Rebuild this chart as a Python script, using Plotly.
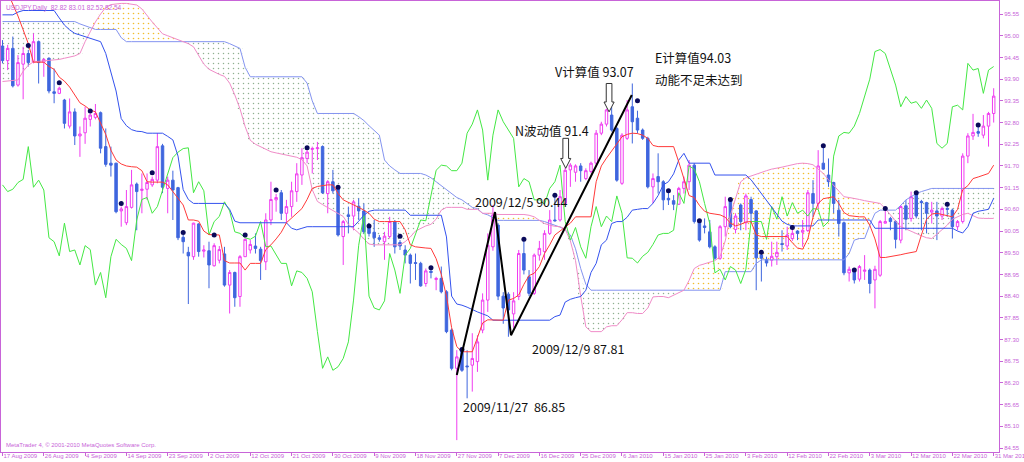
import plotly.graph_objects as go

# ---------------- data ----------------
bars = list(range(193))

open_ = [94.74,94.37,94.68,93.75,94.28,94.55,94.34,94.85,94.33,94.43,
         93.58,93.54,93.37,92.71,93.07,92.46,92.54,92.88,92.93,93.05,
         92.19,91.77,91.77,90.56,90.26,90.65,91.24,91.08,91.11,91.22,
         91.34,92.21,91.13,91.34,91.15,89.89,89.51,89.40,90.23,89.54,
         89.55,89.17,89.31,89.47,88.68,89.00,88.39,89.40,89.57,89.67,
         89.59,89.27,90.33,90.84,91.02,90.50,90.67,91.05,91.47,91.89,
         92.12,92.14,92.19,91.00,91.30,91.17,89.91,90.46,90.43,90.68,
         90.56,90.20,90.02,89.88,89.78,89.91,90.29,89.76,89.57,89.44,
         89.25,89.23,88.72,89.03,88.82,88.85,88.51,87.54,86.57,87.05,
         86.63,86.65,86.74,87.54,88.30,89.65,90.20,88.40,88.45,87.95,
         88.39,89.48,88.89,88.47,89.44,89.53,89.99,90.33,90.33,90.75,
         91.60,91.54,91.70,91.38,91.56,91.77,92.53,92.76,92.99,92.65,
         91.26,92.40,93.20,92.91,92.61,92.40,91.17,91.43,91.30,90.88,
         90.82,90.73,91.13,91.30,91.72,90.29,90.18,90.03,89.65,89.36,
         90.16,90.84,90.09,90.71,90.26,90.85,90.56,89.44,89.33,89.31,
         89.40,89.73,89.67,89.86,90.05,90.02,90.06,91.00,90.75,91.77,
         91.47,91.28,90.58,90.26,88.99,89.08,88.83,89.03,89.06,88.81,
         88.93,90.25,90.37,90.29,89.82,90.69,90.37,91.02,90.80,90.77,
         90.53,90.56,90.43,90.62,90.58,90.16,90.29,91.95,92.46,92.57,
         92.48,92.71,93.03]
high = [94.89,94.77,94.98,94.51,94.72,94.64,95.06,94.88,94.43,94.45,
        94.17,93.71,93.40,93.41,93.16,92.70,93.20,93.03,93.27,93.08,
        92.65,92.19,91.78,90.67,91.09,91.60,91.28,91.51,91.51,91.43,
        92.53,92.26,91.43,91.58,91.17,89.95,89.65,90.26,90.25,89.69,
        89.78,89.74,89.67,89.65,89.06,89.02,89.44,89.86,89.82,89.99,
        89.65,90.50,91.30,90.99,91.09,90.84,91.30,91.77,92.15,92.10,
        92.19,92.31,92.22,91.34,91.60,91.17,90.33,90.67,90.84,90.88,
        90.75,90.25,90.33,89.95,90.03,90.41,90.33,89.82,89.69,89.48,
        89.48,89.27,89.10,89.06,88.89,89.15,88.55,87.58,87.03,87.07,
        87.03,87.46,87.41,88.47,89.99,90.71,90.25,88.50,88.50,88.50,
        89.57,89.80,89.06,89.48,89.80,90.07,90.58,90.92,91.09,91.65,
        91.77,91.74,91.77,91.64,91.81,92.61,92.82,93.15,93.20,92.69,
        92.53,93.37,93.79,93.10,92.65,92.44,91.51,92.02,91.34,91.05,
        90.96,91.17,91.43,91.85,91.77,90.33,90.37,90.33,89.69,90.20,
        90.92,90.88,90.50,90.75,91.00,90.92,90.58,89.50,89.40,89.78,
        89.78,90.07,90.16,90.12,90.07,90.33,91.09,91.34,92.10,92.19,
        91.89,91.30,90.84,90.29,89.15,89.08,89.19,89.44,89.10,89.17,
        90.33,90.58,90.41,90.33,90.71,90.84,91.05,91.05,90.84,90.79,
        90.79,90.79,90.67,90.75,90.62,90.33,92.02,92.53,93.02,92.72,
        92.99,93.07,93.67]
low = [94.30,94.13,93.69,93.71,93.39,94.22,94.30,93.79,93.96,93.54,
       93.29,93.52,92.65,92.65,92.23,91.93,92.26,92.70,92.88,92.02,
       91.68,91.43,90.50,90.16,90.20,90.62,90.07,90.50,90.84,91.17,
       91.26,91.01,90.50,90.33,89.82,89.48,88.20,89.32,89.40,89.38,
       88.60,89.15,89.23,88.64,87.96,88.13,88.13,89.40,89.48,89.48,
       88.81,89.06,90.20,90.54,90.33,90.24,90.41,90.79,91.22,91.77,
       91.51,91.85,90.99,90.50,91.00,89.91,89.19,89.99,90.07,90.33,
       89.99,89.91,89.65,89.78,89.32,89.86,89.48,89.57,89.23,88.72,
       88.81,88.64,88.64,88.85,88.55,88.47,87.46,86.52,84.75,86.48,
       85.81,85.98,86.48,87.46,88.00,89.55,88.30,87.70,87.37,87.60,
       88.30,88.95,88.40,88.43,89.30,89.32,89.95,90.29,90.29,90.70,
       91.17,91.30,91.30,91.34,91.51,91.68,92.48,92.70,92.57,91.30,
       91.22,92.36,92.27,92.52,92.36,91.13,90.75,91.00,90.58,90.71,
       90.58,90.71,91.00,91.09,90.24,89.78,89.99,89.61,89.32,89.32,
       89.91,90.12,89.99,90.07,90.07,90.24,88.55,88.77,89.15,89.15,
       89.19,89.53,89.57,89.80,89.82,89.65,90.03,90.41,90.62,91.60,
       91.17,90.50,89.91,88.93,88.77,88.72,88.77,88.81,88.47,88.09,
       88.89,90.24,90.07,89.61,89.74,90.07,90.29,90.37,90.07,89.99,
       90.24,89.82,90.33,90.41,89.86,90.07,90.24,91.77,92.36,92.44,
       92.40,92.19,92.80]
close = [94.37,94.68,93.73,94.32,94.55,94.32,94.85,94.32,94.40,93.60,
         93.54,93.67,92.78,93.07,92.46,92.51,92.91,92.99,93.03,92.15,
         91.74,91.72,90.54,90.61,90.67,91.22,91.05,91.11,91.28,91.36,
         92.19,91.16,91.34,91.09,89.88,89.78,89.42,90.25,89.53,89.57,
         89.19,89.68,89.58,88.68,89.00,88.36,89.40,89.84,89.71,89.61,
         89.30,90.33,90.85,90.90,90.50,90.67,91.07,91.50,91.91,92.05,
         92.14,92.16,91.02,91.30,91.07,89.95,90.29,90.42,90.79,90.56,
         90.03,89.99,89.88,89.84,89.92,90.29,89.65,89.67,89.44,89.23,
         89.23,88.66,89.04,89.00,88.85,88.51,87.50,86.57,86.86,86.52,
         86.61,86.82,87.24,88.30,89.69,90.46,88.40,88.10,88.05,88.28,
         89.48,89.06,88.47,89.44,89.61,89.99,90.33,90.31,90.92,91.59,
         91.72,91.70,91.58,91.58,91.77,92.53,92.76,93.12,92.61,91.34,
         92.48,93.12,92.82,92.61,92.40,91.17,91.38,91.30,90.84,90.84,
         90.73,91.13,91.30,91.72,90.29,89.82,90.14,89.65,89.36,90.16,
         90.67,90.16,90.43,90.29,90.94,90.50,89.37,89.36,89.24,89.41,
         89.51,89.71,89.95,89.99,89.99,90.07,91.02,90.75,91.70,91.62,
         91.30,90.75,90.24,88.99,89.08,88.81,89.15,89.06,88.72,89.08,
         90.29,90.29,90.29,89.84,90.67,90.35,90.92,90.43,90.77,90.50,
         90.58,90.43,90.62,90.60,90.16,90.29,91.95,92.46,92.55,92.53,
         92.71,93.03,93.47]
# closes after the last visible bar (only seen through the lagging green line)
future_close = [93.90,94.60,94.65,94.55,94.13,93.75,93.20,93.46,93.29,93.33,
                93.16,93.37,93.16,92.27,92.15,92.27,93.20,93.24,93.12,94.30,
                94.13,94.17,93.54,94.13,94.22]

tenkan = [96.40,96.10,95.80,95.50,95.15,94.80,94.33,94.33,94.33,94.22,
          94.15,93.95,93.85,93.70,93.50,93.30,93.22,93.12,93.07,92.80,
          92.50,92.10,91.85,91.75,91.70,91.68,91.67,91.58,91.30,91.29,
          91.29,91.29,91.22,91.05,90.88,90.71,90.33,90.33,90.30,90.05,
          89.96,89.95,89.95,89.30,89.24,89.24,89.24,89.06,89.23,89.23,
          89.23,89.58,89.70,89.85,90.02,90.26,90.38,90.52,90.62,90.85,
          91.13,91.18,91.20,91.22,91.22,91.00,90.84,90.78,90.73,90.65,
          90.58,90.50,90.35,90.29,90.29,90.29,90.29,90.29,90.08,89.70,
          89.65,89.63,89.62,89.61,89.35,88.95,88.40,87.60,87.12,86.99,
          86.99,86.99,87.35,87.72,87.80,87.80,87.79,87.79,88.30,88.34,
          88.43,88.70,88.92,88.98,89.15,89.48,89.70,89.95,90.05,90.14,
          90.25,90.41,90.41,90.41,90.41,91.30,91.70,91.90,92.08,92.28,
          92.44,92.50,92.53,92.52,92.48,92.40,92.22,92.19,92.19,92.19,
          92.19,91.80,91.35,90.95,90.90,90.70,90.55,90.50,90.48,90.46,
          90.40,90.25,90.18,90.22,90.28,90.29,89.95,89.91,89.91,89.91,
          89.91,89.91,89.91,89.75,89.62,89.59,89.85,90.40,90.75,90.87,
          90.90,90.92,90.75,90.52,90.44,90.42,90.41,90.41,90.20,89.85,
          89.38,89.38,89.40,89.43,89.45,89.48,89.50,89.53,89.95,90.35,
          90.48,90.50,90.47,90.44,90.41,90.60,91.10,91.20,91.38,91.42,
          91.46,91.51,91.72]
kijun = [95.53,95.53,95.53,95.60,95.64,95.64,95.64,95.64,95.64,95.64,
         95.64,95.45,95.27,95.15,95.06,95.02,94.98,94.94,94.90,94.85,
         94.55,94.10,93.60,92.90,92.72,92.62,92.58,92.57,92.53,92.53,
         92.53,92.53,92.45,92.36,91.95,91.10,90.85,90.75,90.75,90.75,
         90.75,90.75,90.75,90.75,90.60,90.30,90.26,90.26,90.26,90.26,
         90.26,90.26,90.26,90.26,90.26,90.26,90.12,90.08,90.12,90.16,
         90.16,90.16,90.16,90.16,90.16,90.16,90.16,90.16,90.16,90.30,
         90.45,90.55,90.58,90.58,90.58,90.58,90.58,90.58,90.58,90.45,
         90.45,90.45,90.45,90.45,90.45,90.45,89.90,88.40,88.20,88.17,
         88.12,88.05,88.00,87.95,87.90,87.79,87.79,87.79,87.79,87.79,
         87.79,87.79,87.79,87.79,87.79,87.79,87.79,87.88,87.92,88.25,
         88.32,88.36,88.39,88.55,89.00,89.23,89.70,89.82,90.24,90.29,
         90.29,90.40,90.58,90.60,90.62,90.62,90.75,90.95,91.22,91.30,
         91.50,91.85,92.02,91.77,91.77,91.77,91.77,91.77,91.47,91.47,
         91.47,91.47,91.47,91.47,91.47,91.35,91.17,91.00,90.84,90.65,
         90.45,90.30,90.22,90.18,90.18,90.18,90.18,90.18,90.33,90.33,
         90.33,90.33,90.33,90.33,90.33,90.33,90.33,90.33,90.33,90.12,
         90.12,90.12,90.12,90.12,90.12,90.12,90.12,90.12,90.12,90.12,
         90.12,90.12,90.12,90.12,90.12,90.05,90.00,90.16,90.50,90.55,
         90.58,90.60,90.88]
senkou_a = [93.84,93.85,93.86,93.88,94.10,94.25,94.34,94.35,94.36,94.37,
            94.38,94.40,94.43,94.46,94.49,94.55,94.85,95.10,95.35,95.55,
            95.72,95.79,95.81,95.82,95.82,95.80,95.78,95.68,95.50,95.35,
            95.20,95.05,95.00,94.95,94.90,94.86,94.80,94.72,94.50,94.28,
            94.15,94.08,94.02,93.97,93.80,93.50,93.15,92.70,92.35,92.25,
            92.19,92.12,92.06,92.03,92.00,91.98,91.95,91.92,91.86,91.70,
            91.10,90.80,90.72,90.65,90.58,90.50,90.42,90.22,90.10,90.00,
            89.85,89.72,89.70,89.70,89.70,89.70,89.70,89.70,89.78,89.90,
            90.05,90.12,90.18,90.22,90.35,90.58,90.65,90.65,90.65,90.65,
            90.60,90.60,90.60,90.50,90.50,90.50,90.47,90.47,90.47,90.47,
            90.47,90.47,90.45,90.41,90.32,90.24,90.20,90.17,90.16,90.10,
            89.80,89.30,88.40,87.62,87.50,87.50,87.50,87.62,87.65,87.65,
            87.80,87.98,87.98,87.96,87.96,88.10,88.38,88.39,88.39,88.36,
            88.42,88.50,88.55,88.80,89.10,89.18,89.22,89.26,89.30,89.40,
            89.80,90.45,90.90,91.30,91.40,91.45,91.50,91.55,91.58,91.62,
            91.64,91.67,91.70,91.73,91.76,91.77,91.76,91.73,91.62,91.51,
            91.35,91.20,91.05,90.92,90.90,90.88,90.85,90.82,90.80,90.78,
            90.75,90.62,90.45,90.30,90.16,90.10,90.03,89.98,89.93,89.88,
            89.86,89.97,90.08,90.20,90.35,90.42,90.47,90.50,90.45,90.38,
            90.37,90.37,90.37]
senkou_b = [95.36,95.36,95.36,95.36,95.36,95.36,95.36,95.36,95.36,95.36,
            95.36,95.36,95.36,95.36,95.36,95.30,95.25,95.20,95.16,95.16,
            95.16,95.16,95.16,94.95,94.85,94.85,94.85,94.85,94.85,94.85,
            94.85,94.85,94.85,94.85,94.85,94.85,94.85,94.85,94.85,94.85,
            94.85,94.85,94.85,94.85,94.80,94.75,94.68,94.20,93.96,93.96,
            93.96,93.96,93.96,93.96,93.96,93.96,93.96,93.96,93.96,93.80,
            93.35,93.03,93.03,93.03,93.03,93.03,93.03,93.03,93.03,92.95,
            92.85,92.72,92.60,92.48,91.85,91.70,91.60,91.51,91.51,91.51,
            91.51,91.51,91.47,91.40,91.30,91.20,91.09,91.00,90.90,90.84,
            90.75,90.65,90.62,90.50,90.46,90.40,90.32,90.32,90.32,90.32,
            90.32,90.32,90.32,90.32,90.32,90.29,90.25,90.20,90.15,90.08,
            89.95,89.60,89.10,88.70,88.55,88.55,88.55,88.55,88.55,88.55,
            88.55,88.55,88.55,88.55,88.55,88.55,88.55,88.55,88.55,88.55,
            88.55,88.55,88.55,88.55,88.55,88.55,88.55,88.55,88.55,88.55,
            89.02,89.02,89.02,89.02,89.02,89.02,89.23,89.32,89.32,89.32,
            89.32,89.32,89.32,89.32,89.32,89.32,89.32,89.32,89.32,89.32,
            89.32,89.32,89.32,89.32,89.48,89.82,89.86,89.86,90.20,90.50,
            90.58,90.58,90.58,90.58,90.70,90.84,90.92,91.00,91.05,91.10,
            91.13,91.13,91.13,91.13,91.13,91.13,91.13,91.13,91.13,91.13,
            91.13,91.13,91.13]
chikou_shift = 25

dot_bars = [5,11,17,23,29,35,41,47,53,59,65,71,77,83,89,101,107,123,129,135,
            141,147,153,159,165,171,177,183,189]
dot_vals = [94.75,93.81,93.09,90.75,91.53,90.01,89.95,89.95,91.09,92.16,91.16,
            90.18,89.92,89.12,87.05,89.84,90.96,93.35,91.07,90.31,90.85,89.51,
            90.14,92.21,89.06,90.62,91.02,90.73,92.74]

date_bars = [0,8,16,24,32,40,48,56,64,72,80,88,96,104,112,120,128,136,144,
             152,160,168,176,184,192]
date_labels = ["17 Aug 2009","26 Aug 2009","4 Sep 2009","14 Sep 2009","23 Sep 2009",
               "2 Oct 2009","12 Oct 2009","21 Oct 2009","30 Oct 2009","9 Nov 2009",
               "18 Nov 2009","27 Nov 2009","7 Dec 2009","16 Dec 2009","25 Dec 2009",
               "6 Jan 2010","15 Jan 2010","25 Jan 2010","3 Feb 2010","12 Feb 2010",
               "22 Feb 2010","3 Mar 2010","12 Mar 2010","22 Mar 2010","31 Mar 2010"]
price_ticks = [84.55,85.10,85.65,86.20,86.75,87.30,87.85,88.40,88.95,89.50,90.05,
               90.60,91.15,91.70,92.25,92.80,93.35,93.90,94.45,95.00,95.55]

# hand-drawn N-wave trend line
zz_bars = [88.0, 95.4, 98.5, 121.9]
zz_prices = [86.40, 90.53, 87.41, 93.50]

# text labels: (left bar, price, text)
notes = [(91.1, 90.79, "2009/12/5 90.44"),
         (102.2, 87.08, "2009/12/9 87.81"),
         (88.8, 85.60, "2009/11/27  86.85"),
         (98.9, 92.61, "N波动值 91.4"),
         (106.6, 94.09, "V计算值 93.07"),
         (126.0, 94.45, "E计算值94.03"),
         (126.0, 93.90, "动能不足未达到")]
# hollow arrows: (bar, top price, tip price)
arrows = [(109.1, 92.40, 91.64), (117.5, 93.79, 93.07)]

# ---------------- figure ----------------
ORCHID = '#C864D8'
BULL = '#F03CF0'
BEAR = '#3F66DE'

fig = go.Figure()

# Kumo (cloud) as dotted bars
up_base, up_h, dn_base, dn_h = [], [], [], []
for a, b in zip(senkou_a, senkou_b):
    if a >= b:
        up_base.append(b); up_h.append(a - b); dn_base.append(None); dn_h.append(None)
    else:
        dn_base.append(a); dn_h.append(b - a); up_base.append(None); up_h.append(None)
fig.add_trace(go.Bar(x=bars, y=up_h, base=up_base, width=1,
                     marker=dict(color='#F2BC2C', line=dict(width=0),
                                 pattern=dict(shape='.', size=5, solidity=0.08)),
                     hoverinfo='skip'))
fig.add_trace(go.Bar(x=bars, y=dn_h, base=dn_base, width=1,
                     marker=dict(color='#90B090', line=dict(width=0),
                                 pattern=dict(shape='.', size=5, solidity=0.07)),
                     hoverinfo='skip'))

fig.add_trace(go.Candlestick(x=bars, open=open_, high=high, low=low, close=close,
                             increasing=dict(line=dict(color=BULL, width=1), fillcolor='white'),
                             decreasing=dict(line=dict(color=BEAR, width=1), fillcolor=BEAR),
                             whiskerwidth=0, hoverinfo='skip'))

all_close = close + future_close
chikou = [all_close[i + chikou_shift] for i in bars]

line_specs = [(senkou_b, '#8494F0'), (senkou_a, '#F08CC8'), (chikou, '#44E844'),
              (kijun, '#3452EE'), (tenkan, '#FF3A3A')]
for vals, col in line_specs:
    fig.add_trace(go.Scatter(x=bars, y=vals, mode='lines',
                             line=dict(color=col, width=1), hoverinfo='skip'))

fig.add_trace(go.Scatter(x=dot_bars, y=dot_vals, mode='markers',
                         marker=dict(color='#0A0A5A', size=5), hoverinfo='skip'))

fig.add_trace(go.Scatter(x=zz_bars, y=zz_prices, mode='lines',
                         line=dict(color='black', width=2), hoverinfo='skip'))

shapes = []
for c, top, tip in arrows:
    w1, w2, hh = 0.55, 0.98, 0.25
    path = (f"M {c-w1},{top} L {c+w1},{top} L {c+w1},{tip+hh} L {c+w2},{tip+hh} "
            f"L {c},{tip} L {c-w2},{tip+hh} L {c-w1},{tip+hh} Z")
    shapes.append(dict(type='path', path=path, xref='x', yref='y',
                       line=dict(color='#333333', width=1), fillcolor='white'))

annotations = []
for bx, py, txt in notes:
    annotations.append(dict(x=bx, y=py, xref='x', yref='y', text=txt, showarrow=False,
                            xanchor='left', yanchor='middle',
                            font=dict(family='Noto Sans CJK SC', size=12.5, color='#111111')))
annotations.append(dict(x=0.003, y=0.998, xref='paper', yref='paper',
                        text='USDJPY,Daily  82.82 83.01 82.52 82.54', showarrow=False,
                        xanchor='left', yanchor='top',
                        font=dict(family='Liberation Sans', size=6.5, color=ORCHID)))
annotations.append(dict(x=0.003, y=0.016, xref='paper', yref='paper',
                        text='MetaTrader 4, © 2001-2010 MetaQuotes Software Corp.',
                        showarrow=False, xanchor='left', yanchor='middle',
                        font=dict(family='Liberation Sans', size=6, color=ORCHID)))

fig.update_layout(width=1024, height=462, margin=dict(l=1, r=25, t=1, b=10),
                  paper_bgcolor='white', plot_bgcolor='white', showlegend=False,
                  barmode='overlay', bargap=0, boxgap=0.32,
                  shapes=shapes, annotations=annotations, template='none')
fig.update_xaxes(range=[-0.29, 193.03], tickmode='array', tickvals=date_bars,
                 ticktext=date_labels, ticks='outside', ticklen=3, tickcolor=ORCHID,
                 showline=True, linecolor=ORCHID, linewidth=1, mirror=True,
                 showgrid=False, zeroline=False, automargin=False, tickangle=0,
                 ticklabelposition='outside right', ticklabeloverflow='allow',
                 ticklabelstandoff=-2,
                 tickfont=dict(family='Liberation Sans', size=6, color=ORCHID),
                 rangeslider=dict(visible=False))
fig.update_yaxes(range=[84.449, 95.881], side='right', tickmode='array',
                 tickvals=price_ticks, ticktext=[f"{v:.2f}" for v in price_ticks],
                 ticks='outside', ticklen=3, tickcolor=ORCHID,
                 showline=True, linecolor=ORCHID, linewidth=1, mirror=True,
                 showgrid=False, zeroline=False, automargin=False,
                 ticklabeloverflow='allow',
                 tickfont=dict(family='Liberation Sans', size=6, color=ORCHID))

fig.write_html("out.html", config={'displayModeBar': False},
               post_script="document.body.style.margin='0';document.body.style.padding='0';")
